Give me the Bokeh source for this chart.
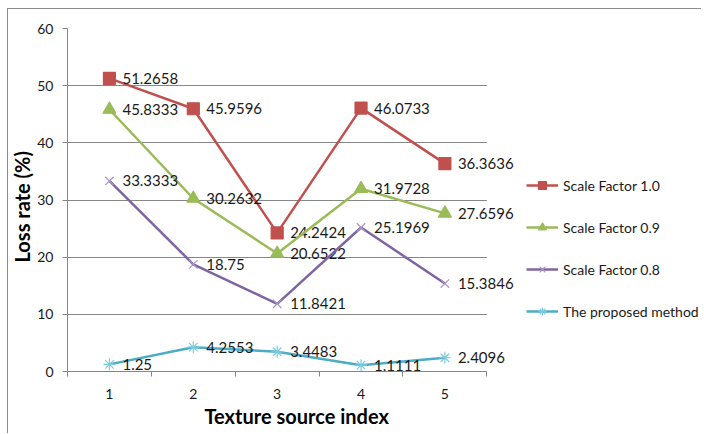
from bokeh.plotting import figure
from bokeh.models import FixedTicker, Legend, LegendItem, Range1d, ColumnDataSource, BoxAnnotation, Title
from bokeh.core.properties import value
from bokeh.embed import file_html
from bokeh.resources import INLINE

categories = [1, 2, 3, 4, 5]
tick_labels = ["1", "2", "3", "4", "5"]
scale_10 = [51.2658, 45.9596, 24.2424, 46.0733, 36.3636]
scale_09 = [45.8333, 30.2632, 20.6522, 31.9728, 27.6596]
scale_08 = [33.3333, 18.75, 11.8421, 25.1969, 15.3846]
proposed = [1.25, 4.2553, 3.4483, 1.1111, 2.4096]
series_names = ["Scale Factor 1.0", "Scale Factor 0.9", "Scale Factor 0.8", "The proposed method"]
series_values = [scale_10, scale_09, scale_08, proposed]

colors = ["#C0504D", "#9BBB59", "#8064A2", "#4BACC6"]
marker_colors = ["#C0504D", "#9BBB59", "#A996C8", "#7CCDE0"]
markers = ["square", "triangle", "x", "asterisk"]
marker_sizes = [12, 13, 12, 12]

FONT = "Lato"

# layout (pixels)
W, H = 694, 425
BL, BR, BT, BB = 58, 1, 19, 63
PX_PER_CAT = 84
frame_w = W - BL - BR
x_lo = 0.5
x_plot_hi = 5.5
x_hi = x_lo + frame_w / PX_PER_CAT

p = figure(width=W, height=H, output_backend="svg", toolbar_location=None,
           x_range=Range1d(x_lo, x_hi), y_range=Range1d(0, 60),
           min_border_left=BL, min_border_right=BR, min_border_top=BT, min_border_bottom=BB)
p.background_fill_color = "white"
p.border_fill_color = "white"
p.outline_line_color = None
p.styles = {"border-left": "1px solid #8C8C8C", "border-top": "1px solid #8C8C8C",
            "margin-left": "7px", "margin-top": "8px"}

p.xgrid.grid_line_color = None
p.ygrid.grid_line_color = "#868686"
p.ygrid.grid_line_width = 1
p.ygrid.ticker = FixedTicker(ticks=list(range(0, 61, 10)))

# hide grid beyond the plot area (legend / label region)
p.add_layout(BoxAnnotation(left=x_plot_hi, fill_color="white", fill_alpha=1.0,
                           line_color=None, level="underlay"))

p.yaxis.ticker = FixedTicker(ticks=list(range(0, 61, 10)))
p.yaxis.minor_tick_line_color = None
p.yaxis.major_tick_out = 5
p.yaxis.major_tick_in = 0
p.yaxis.major_label_standoff = 9
p.yaxis.axis_line_color = "#868686"
p.yaxis.major_tick_line_color = "#868686"

p.xaxis.ticker = FixedTicker(ticks=categories, minor_ticks=[0.5, 1.5, 2.5, 3.5, 4.5, 5.5])
p.xaxis.major_label_overrides = {c: t for c, t in zip(categories, tick_labels)}
p.xaxis.bounds = (x_lo, x_plot_hi)
p.xaxis.major_tick_out = 0
p.xaxis.major_tick_in = 0
p.xaxis.minor_tick_out = 5
p.xaxis.minor_tick_in = 0
p.xaxis.minor_tick_line_color = "#868686"
p.xaxis.axis_line_color = "#868686"
p.xaxis.major_label_standoff = 12

for ax in (p.xaxis, p.yaxis):
    ax.major_label_text_font = FONT
    ax.major_label_text_font_size = "14px"
    ax.major_label_text_color = "#1a1a1a"

# axis titles as side titles so they can be placed like the original
xtitle = Title(text="Texture source index", align="left", offset=137, standoff=0,
               text_font=FONT, text_font_size="20px", text_font_style="bold", text_color="black")
p.add_layout(xtitle, "below")
ytitle = Title(text="Loss rate (%)", align="left", offset=109, standoff=0, vertical_align="middle",
               text_font=FONT, text_font_size="20px", text_font_style="bold", text_color="black")
p.add_layout(ytitle, "left")

items = []
for name, vals, c, mc, m, s in zip(series_names, series_values, colors, marker_colors, markers, marker_sizes):
    src = ColumnDataSource(dict(x=categories, y=vals, lab=[f"{v:g}" for v in vals]))
    ln = p.line("x", "y", source=src, line_color=c, line_width=2.5)
    mk = p.scatter("x", "y", source=src, marker=m, size=s, fill_color=mc, line_color=mc, line_width=1.2)
    p.text("x", "y", text="lab", source=src, x_offset=13, text_baseline="middle", text_align="left",
           text_font=value(FONT), text_font_size="15px", text_color="#1a1a1a")
    items.append(LegendItem(label=name, renderers=[ln, mk]))

legend = Legend(items=items, location=(459, 50))
legend.background_fill_alpha = 0
legend.border_line_color = None
legend.padding = 0
legend.margin = 0
legend.glyph_width = 32
legend.glyph_height = 20
legend.label_height = 20
legend.spacing = 22
legend.label_standoff = 5
legend.label_text_font = FONT
legend.label_text_font_size = "14px"
legend.label_text_color = "#1a1a1a"
p.add_layout(legend, "center")

open("out.html", "w").write(file_html(p, INLINE))
